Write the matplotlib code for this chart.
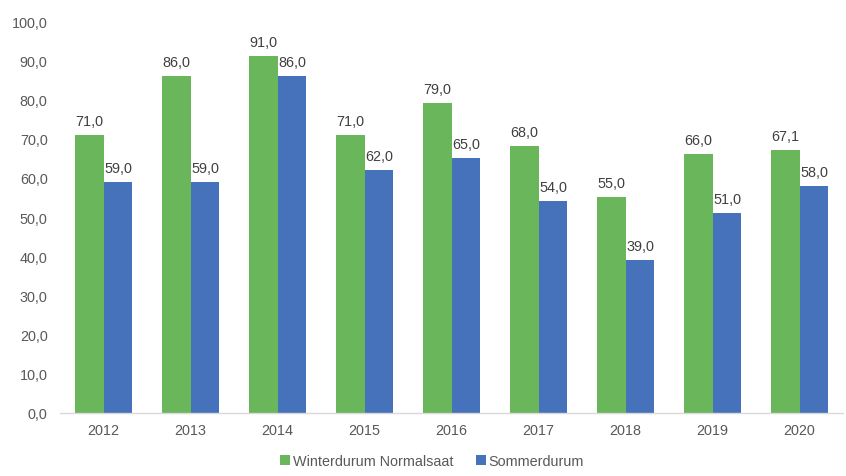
import matplotlib
matplotlib.use("Agg")
import matplotlib.pyplot as plt
import numpy as np

years = ["2012", "2013", "2014", "2015", "2016", "2017", "2018", "2019", "2020"]
winter = [71.0, 86.0, 91.0, 71.0, 79.0, 68.0, 55.0, 66.0, 67.1]
sommer = [59.0, 59.0, 86.0, 62.0, 65.0, 54.0, 39.0, 51.0, 58.0]
series_names = ["Winterdurum Normalsaat", "Sommerdurum"]

plt.rcParams['font.family'] = ['Liberation Sans', 'DejaVu Sans']
txt = '#595959'
fs = 10.4

fig = plt.figure(figsize=(8.46, 4.77), dpi=100)
ax = fig.add_axes([60/846, 63/477, 783/846, 392/477])

x = np.arange(len(years))
w = 0.333
b1 = ax.bar(x - w/2, winter, w, color='#6ab65a', label=series_names[0])
b2 = ax.bar(x + w/2, sommer, w, color='#4672bb', label=series_names[1])

def fmt(v):
    return f"{v:.1f}".replace('.', ',')

for bars, vals in ((b1, winter), (b2, sommer)):
    for r, v in zip(bars, vals):
        ax.annotate(fmt(v), (r.get_x() + r.get_width()/2, v), xytext=(0, 5),
                    textcoords='offset points', ha='center', va='bottom',
                    fontsize=fs, color='#404040')

ax.set_xlim(-0.5, len(years) - 0.5)
ax.set_ylim(0, 100)
ax.set_yticks(np.arange(0, 101, 10))
ax.set_yticklabels([fmt(v) for v in np.arange(0, 101, 10)])
ax.set_xticks(x)
ax.set_xticklabels(years)
ax.tick_params(axis='both', length=0, labelsize=fs, labelcolor=txt)
ax.tick_params(axis='y', pad=9)
ax.tick_params(axis='x', pad=7)
for s in ['top', 'right', 'left']:
    ax.spines[s].set_visible(False)
ax.spines['bottom'].set_color('#d9d9d9')
ax.spines['bottom'].set_linewidth(1)

fig.legend(handles=[b1, b2], labels=series_names, loc='center', bbox_to_anchor=(432/846, 1 - 462/477),
           ncol=2, frameon=False, fontsize=fs, labelcolor=txt, handlelength=0.65, handleheight=0.65,
           handletextpad=0.2, columnspacing=1.6)

fig.savefig('out.png', dpi=100)
